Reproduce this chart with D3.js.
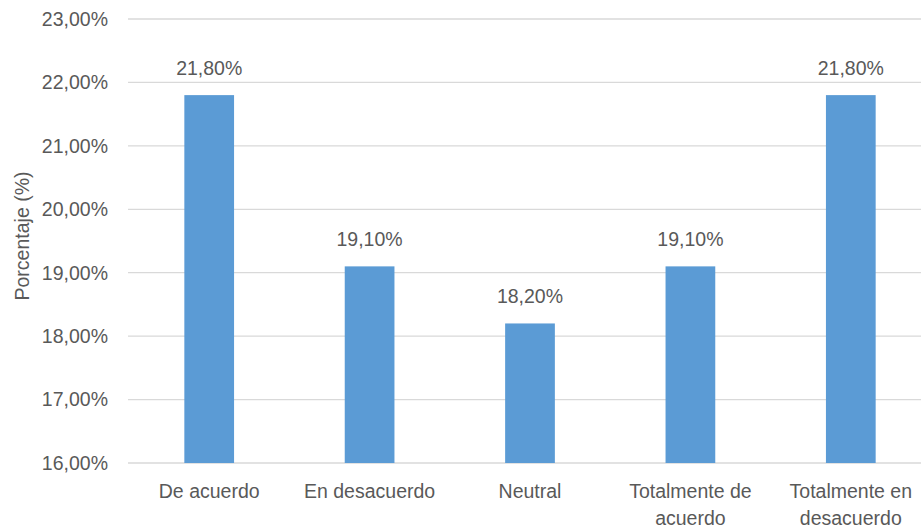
<!DOCTYPE html>
<html>
<head>
<meta charset="utf-8">
<script src="https://cdn.jsdelivr.net/npm/d3@7"></script>
<style>
  html, body { margin: 0; padding: 0; background: #fff; }
  svg { display: block; overflow: hidden; }
  text { font-family: "Liberation Sans", Arial, sans-serif; fill: #595959; }
</style>
</head>
<body>
<svg id="chart" width="921" height="529"></svg>
<script>
const categories = [["De acuerdo"], ["En desacuerdo"], ["Neutral"], ["Totalmente de", "acuerdo"], ["Totalmente en", "desacuerdo"]];
const values = [21.8, 19.1, 18.2, 19.1, 21.8];
const yTicks = [16, 17, 18, 19, 20, 21, 22, 23];
const yTitle = "Porcentaje (%)";

const svg = d3.select("#chart");
const fontSize = 19.5;
const fmt = v => d3.format(".2f")(v).replace(".", ",") + "%";

const x = d3.scaleBand()
  .domain(d3.range(values.length))
  .range([129, 931])
  .paddingInner(0.69)
  .paddingOuter(0.345);

const y = d3.scaleLinear().domain([16, 23]).range([463, 19]);

// gridlines
svg.append("g").selectAll("line").data(yTicks).join("line")
  .attr("x1", 128).attr("x2", 931)
  .attr("y1", d => y(d)).attr("y2", d => y(d))
  .attr("stroke", "#d9d9d9").attr("stroke-width", 1.3);

// y tick labels
svg.append("g").selectAll("text").data(yTicks).join("text")
  .attr("x", 108).attr("y", d => y(d)).attr("dy", "0.35em")
  .attr("text-anchor", "end").style("font-size", fontSize + "px")
  .text(d => fmt(d));

// bars
svg.append("g").selectAll("rect").data(values).join("rect")
  .attr("x", (d, i) => x(i)).attr("width", x.bandwidth())
  .attr("y", d => y(d)).attr("height", d => y(16) - y(d))
  .attr("fill", "#5b9bd5");

// data labels
svg.append("g").selectAll("text").data(values).join("text")
  .attr("x", (d, i) => x(i) + x.bandwidth() / 2)
  .attr("y", d => y(d) - 20)
  .attr("text-anchor", "middle").style("font-size", fontSize + "px")
  .text(d => fmt(d));

// x labels
const xl = svg.append("g").selectAll("text").data(categories).join("text")
  .attr("x", (d, i) => x(i) + x.bandwidth() / 2)
  .attr("y", 498)
  .attr("text-anchor", "middle").style("font-size", fontSize + "px");
xl.each(function(d, i) {
  const t = d3.select(this);
  d.forEach((line, j) => {
    t.append("tspan").attr("x", x(i) + x.bandwidth() / 2).attr("dy", j === 0 ? 0 : 27).text(line);
  });
});

// y title
svg.append("text")
  .attr("transform", `translate(29, ${(y(16) + y(23)) / 2 - 5}) rotate(-90)`)
  .attr("text-anchor", "middle").style("font-size", fontSize + "px")
  .text(yTitle);
</script>
</body>
</html>
